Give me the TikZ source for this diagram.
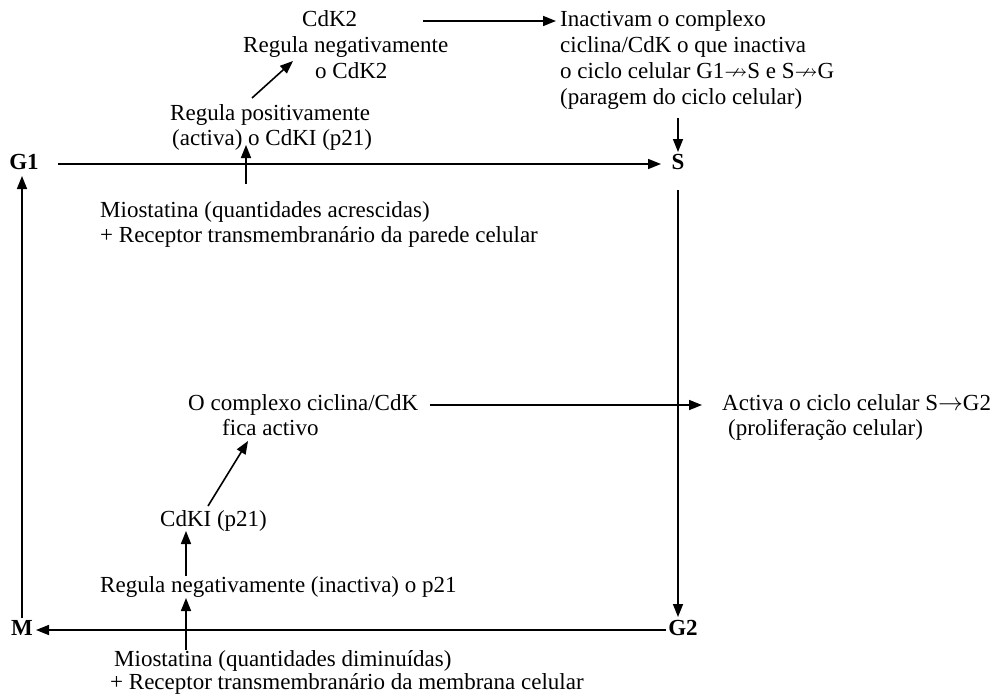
\documentclass[tikz,border=0pt]{standalone}
\usepackage{fontspec}
\setmainfont{Liberation Serif}
\usepackage{amssymb}
\usetikzlibrary{arrows.meta,calc}
\begin{document}
\begin{tikzpicture}[x=1pt,y=-1pt,
  txt/.style={anchor=west,inner sep=0pt,font=\fontsize{23}{26}\selectfont,text height=16.1pt,text depth=4.6pt},
  ph/.style={anchor=center,inner sep=0pt,font=\fontsize{23}{26}\selectfont\bfseries,text height=16.1pt,text depth=4.6pt},
  arr/.style={line width=1.6pt,-{Triangle[length=13pt,width=10pt]}}]
\path[use as bounding box] (0,0) rectangle (1000,696);
% phases
\node[ph] (G1) at (24,164) {G1};
\node[ph] (S) at (678,164) {S};
\node[ph] (M) at (22,630) {M};
\node[ph] (G2) at (683,630) {G2};
% top texts
\node[txt] (cdkA) at (302,21) {CdK2};
\node[txt] (cdkB) at (243,47) {Regula negativamente};
\node[txt] (cdkC) at (315,73) {o CdK2};
\node[txt] (inA) at (560,21) {Inactivam o complexo};
\node[txt] (inB) at (560,47) {ciclina/CdK o que inactiva};
\node[txt] (inC) at (560,73) {o ciclo celular G1$\nrightarrow$S e S$\nrightarrow$G};
\node[txt] (inD) at (560,99) {(paragem do ciclo celular)};
\node[txt] (rpA) at (170,115) {Regula positivamente};
\node[txt] (rpB) at (172,140) {(activa) o CdKI (p21)};
\node[txt] (mioA) at (100,212) {Miostatina (quantidades acrescidas)};
\node[txt] (mioB) at (100,237) {+ Receptor transmembranário da parede celular};
% lower texts
\node[txt] (ccA) at (188,405) {O complexo ciclina/CdK};
\node[txt] (ccB) at (222,430) {fica activo};
\node[txt] (acA) at (722,405) {Activa o ciclo celular S$\rightarrow$G2};
\node[txt] (acB) at (728,430) {(proliferação celular)};
\node[txt] (cdki) at (160,521) {CdKI (p21)};
\node[txt] (rn) at (100,587) {Regula negativamente (inactiva) o p21};
\node[txt] (mdA) at (114,661) {Miostatina (quantidades diminuídas)};
\node[txt] (mdB) at (110,684) {+ Receptor transmembranário da membrana celular};
% cycle
\draw[arr] ($(G1)+(34,0)$) -- ($(S)+(-17,0)$);
\draw[arr] ($(S)+(0,26)$) -- ($(G2)+(-5,-13)$);
\draw[arr] ($(G2)+(-17,0)$) -- ($(M)+(14,0)$);
\draw[arr] ($(M)+(0,-12)$) -- ($(G1)+(-2,12)$);
% regulation arrows
\draw[arr] ($(cdkA.west)+(121,0)$) -- ($(inA.west)+(-4,0)$);
\draw[arr] ($(rpA.west)+(82,-17)$) -- ($(cdkB.west)+(50,14)$);
\draw[arr] ($(mioA.west)+(146,-28)$) -- ($(rpB.west)+(74,5)$);
\draw[arr] ($(inD.west)+(118,19)$) -- ($(S)+(0,-12)$);
\draw[arr] ($(ccA.west)+(242,0)$) -- ($(acA.west)+(-20,0)$);
\draw[arr] ($(cdki.west)+(48,-15)$) -- ($(ccB.west)+(26,11)$);
\draw[arr] ($(rn.west)+(86,-11)$) -- ($(cdki.west)+(26,10)$);
\draw[arr] ($(mdA.west)+(72,-11)$) -- ($(rn.west)+(86,11)$);
\end{tikzpicture}
\end{document}
